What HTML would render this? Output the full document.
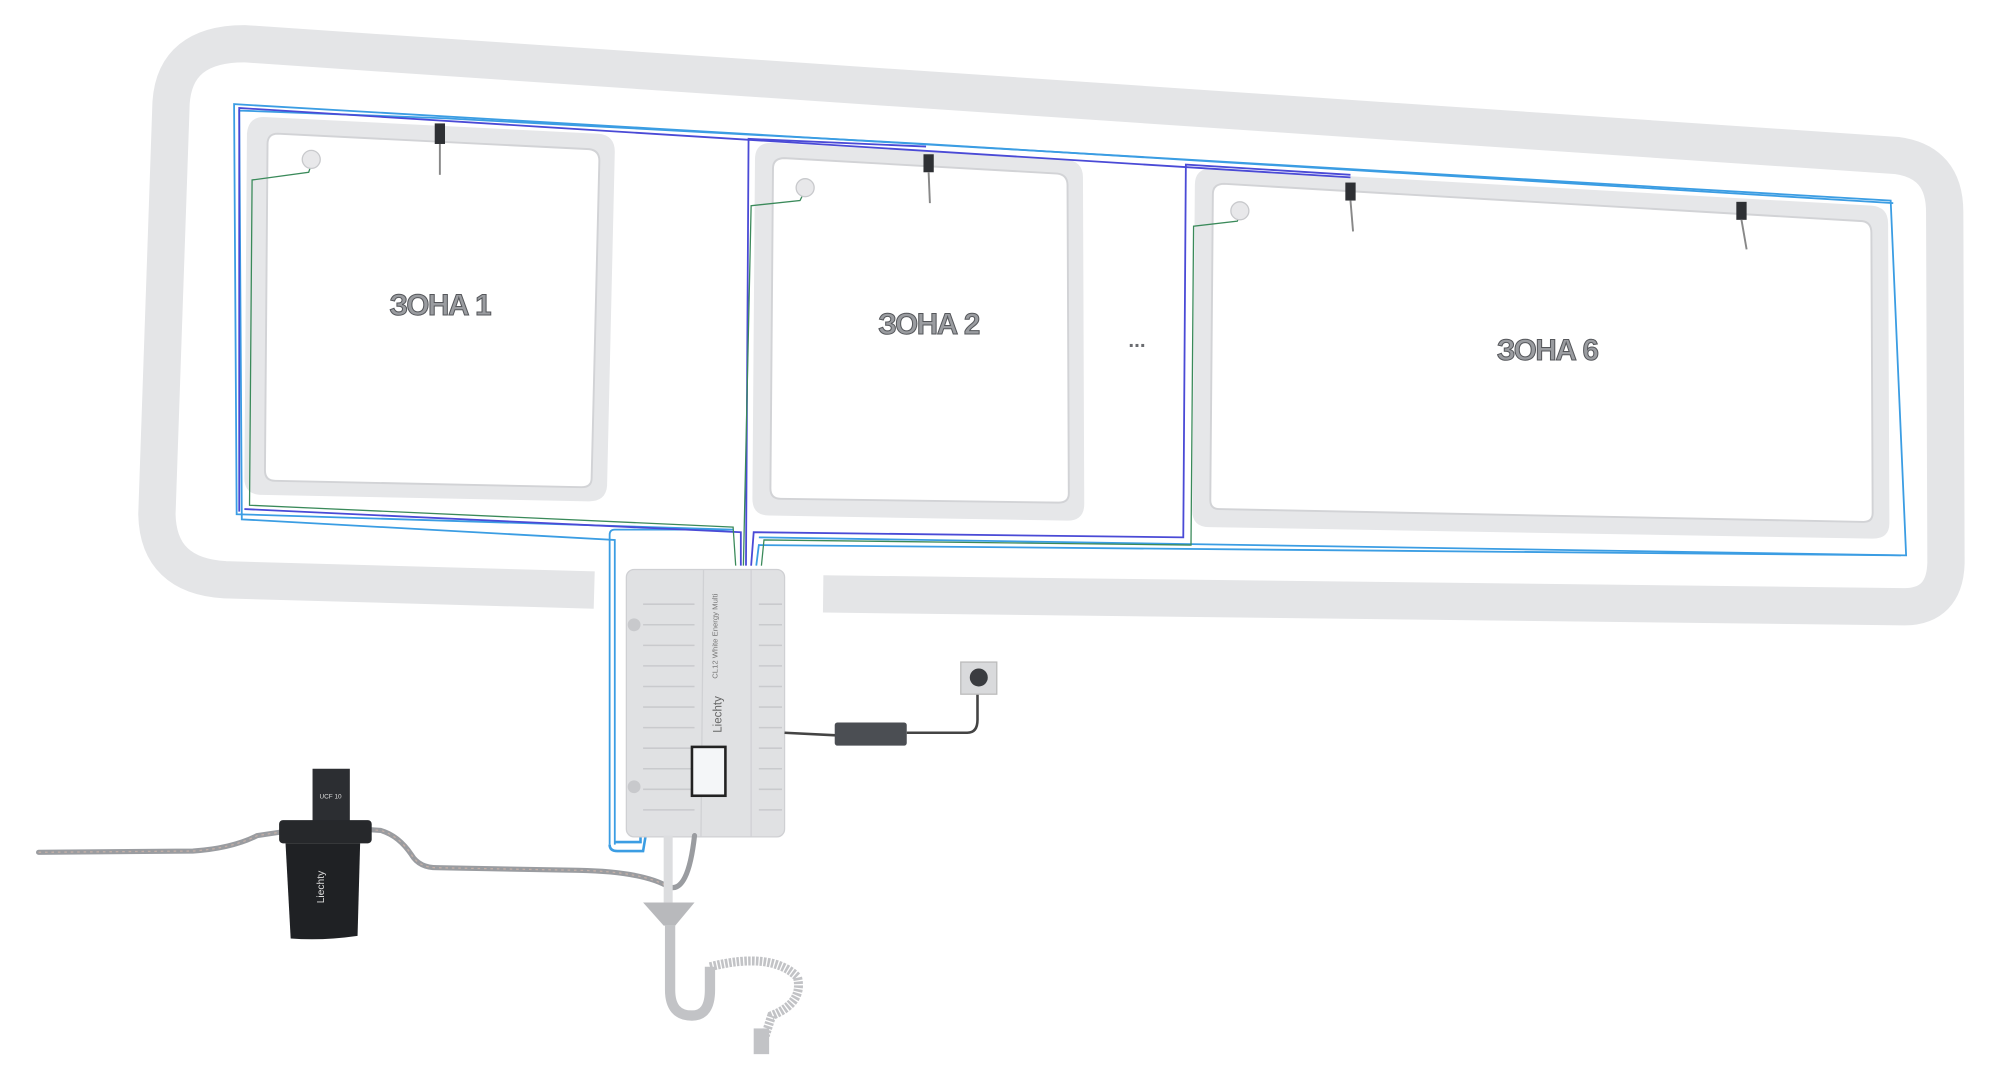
<!DOCTYPE html>
<html><head><meta charset="utf-8"><style>
html,body{margin:0;padding:0;background:#fff;width:2000px;height:1067px;overflow:hidden}
svg{display:block}
text{font-family:"Liberation Sans","DejaVu Sans",sans-serif}
</style></head><body>
<svg width="2000" height="1067" viewBox="0 0 1555 830" preserveAspectRatio="none" xmlns="http://www.w3.org/2000/svg">
<path d="M462,459 L175,451 Q123,448 122,400 L133,80 Q136,34 190,34 L1475,121 Q1512,126 1512,165 L1513,438 Q1512,472 1480,472 L640,462" fill="none" stroke="#e4e5e7" stroke-width="29"/>
<path d="M205,91 L465,104 Q478,105 478,118 L472,378 Q471,390 458,390 L204,385 Q190,385 190,372 L192,104 Q193,91 205,91 Z" fill="#e6e7e9"/>
<path d="M216,104 L458,116 Q466,117 466,125 L460,372 Q460,379 452,379 L214,374 Q206,374 206,366 L208,112 Q208,104 216,104 Z" fill="#fff" stroke="#d2d3d6" stroke-width="1.5"/>
<path d="M600,111 L828,124 Q842,125 842,138 L843,392 Q843,405 830,405 L598,401 Q585,401 585,388 L587,124 Q587,111 600,111 Z" fill="#e6e7e9"/>
<path d="M610,123 L822,135 Q830,136 830,144 L831,384 Q831,391 823,391 L607,388 Q599,388 599,380 L601,131 Q601,123 610,123 Z" fill="#fff" stroke="#d2d3d6" stroke-width="1.5"/>
<path d="M942,131 L1455,160 Q1468,161 1468,174 L1469,407 Q1469,419 1456,419 L940,410 Q927,410 927,397 L929,144 Q929,131 942,131 Z" fill="#e6e7e9"/>
<path d="M952,143 L1448,172 Q1455,173 1455,181 L1456,399 Q1456,406 1449,406 L948,396 Q941,396 941,389 L943,151 Q943,143 952,143 Z" fill="#fff" stroke="#d2d3d6" stroke-width="1.5"/>
<g font-size="23" font-weight="bold" fill="#9a9ca0" stroke="#55575b" stroke-width="0.8" text-anchor="middle" letter-spacing="-1">
<text x="342" y="245">ЗОНА 1</text>
<text x="722" y="260">ЗОНА 2</text>
<text x="1203" y="280">ЗОНА 6</text>
</g>
<text x="884" y="270" font-size="16" fill="#6a6c70" text-anchor="middle" font-weight="bold">...</text>
<g fill="none" stroke-width="1.4">
<path d="M474,657 L474,416 Q474,412 478,412 L570,412 L184,400 L182,81 L1470,156 L1482,432 L590,418" stroke="#3b9de3"/>
<path d="M478,657 L478,420 L188,404 L186,86 L345,92 L720,112 L1472,158" stroke="#3b9de3"/>
<path d="M186,398 L186,84 L1050,138" stroke="#4a4ad6"/>
<path d="M576,440 L576,414 L190,396" stroke="#4a4ad6"/>
<path d="M580,440 L582,108 L720,114" stroke="#4a4ad6"/>
<path d="M584,440 L586,414 L920,418 L922,128 L1050,136" stroke="#4a4ad6"/>
<path d="M588,440 L590,424 L1478,432" stroke="#3b9de3"/>
<path d="M572,440 L570,410 L194,393 L196,140 L240,134 L243,125" stroke="#3a8a5a" stroke-width="1"/>
<path d="M578,440 L584,160 L622,156 L626,148" stroke="#3a8a5a" stroke-width="1"/>
<path d="M592,440 L594,420 L926,424 L928,176 L962,172 L965,165" stroke="#3a8a5a" stroke-width="1"/>
<path d="M474,657 Q474,662 480,662 L500,662 L502,650 M478,655 L498,655 L498,650" stroke="#3b9de3" stroke-width="2"/>
</g>
<g fill="#e8e8ea" stroke="#c8c9cc"><circle cx="242" cy="124" r="7"/><circle cx="626" cy="146" r="7"/><circle cx="964" cy="164" r="7"/></g>
<g>
<rect x="338" y="96" width="8" height="16" fill="#2e3034"/><path d="M342,112 L342,136" stroke="#888" stroke-width="1.5"/>
<rect x="718" y="120" width="8" height="14" fill="#2e3034"/><path d="M722,134 L723,158" stroke="#888" stroke-width="1.5"/>
<rect x="1046" y="142" width="8" height="14" fill="#2e3034"/><path d="M1050,156 L1052,180" stroke="#888" stroke-width="1.5"/>
<rect x="1350" y="157" width="8" height="14" fill="#2e3034"/><path d="M1354,171 L1358,194" stroke="#888" stroke-width="1.5"/>
</g>
<rect x="487" y="443" width="123" height="208" rx="6" fill="#e0e1e3" stroke="#cfd0d3"/>
<path d="M547,443 L545,651 M584,443 L584,651" stroke="#d0d1d4"/>
<g stroke="#c9cacd" stroke-width="1.2">
<path d="M500,470h40M500,486h40M500,502h40M500,518h40M500,534h40M500,550h40M500,566h40M500,582h40M500,598h40M500,614h40M500,630h40"/>
<path d="M590,470h18M590,486h18M590,502h18M590,518h18M590,534h18M590,550h18M590,566h18M590,582h18M590,598h18M590,614h18M590,630h18"/>
</g>
<circle cx="493" cy="486" r="5" fill="#c8c9cc"/><circle cx="493" cy="612" r="5" fill="#c8c9cc"/>
<text transform="translate(561,570) rotate(-90)" font-size="9" fill="#666">Liechty</text>
<text transform="translate(558,528) rotate(-90)" font-size="6" fill="#777">CL12 White Energy Multi</text>
<rect x="537" y="580" width="28" height="40" fill="#222"/><rect x="539" y="582" width="24" height="36" fill="#f4f6f8"/>
<path d="M610,570 L650,572 M705,570 L752,570 Q760,570 760,560 L760,530" stroke="#444" stroke-width="2" fill="none"/>
<rect x="649" y="562" width="56" height="18" rx="2" fill="#4b4e53"/>
<rect x="747" y="515" width="28" height="25" fill="#d9dadc" stroke="#bbb"/><circle cx="761" cy="527" r="7" fill="#3a3c40"/>
<g fill="none" stroke="#9a9ca0" stroke-width="4" stroke-linecap="round">
<path d="M30,663 L150,662 Q180,660 200,650 L220,647"/>
<path d="M282,645 L296,646 Q310,650 320,665 Q326,675 340,675 L450,677 Q500,678 520,690 Q535,695 540,650"/>
</g>
<path d="M30,663 L150,662 Q180,660 200,650 L220,647 M282,645 L296,646 Q310,650 320,665 Q326,675 340,675 L450,677 Q500,678 520,690" fill="none" stroke="#c4b0a8" stroke-width="1" stroke-dasharray="2 3"/>
<rect x="243" y="598" width="29" height="44" fill="#2c2e32"/>
<text x="257" y="621" font-size="5" fill="#ddd" text-anchor="middle">UCF 10</text>
<rect x="217" y="638" width="72" height="18" rx="3" fill="#26282b"/>
<path d="M222,656 L280,656 L278,728 Q250,732 226,730 Z" fill="#1f2124"/>
<text transform="translate(252,690) rotate(-90)" font-size="8" fill="#ddd" text-anchor="middle">Liechty</text>
<rect x="516" y="650" width="7" height="52" fill="#dcdddf"/>
<path d="M500,702 L540,702 L525,720 L516,720 Z" fill="#b8b9bc"/>
<path d="M521,720 L521,770 Q521,790 538,790 Q552,790 552,770 L552,752" fill="none" stroke="#c2c3c6" stroke-width="8"/>
<path d="M552,752 Q600,740 620,760 Q625,780 600,790 L592,815" fill="none" stroke="#c2c3c6" stroke-width="7" stroke-dasharray="2 1"/>
<rect x="586" y="800" width="12" height="20" fill="#c2c3c6"/>
</svg>
</body></html>
